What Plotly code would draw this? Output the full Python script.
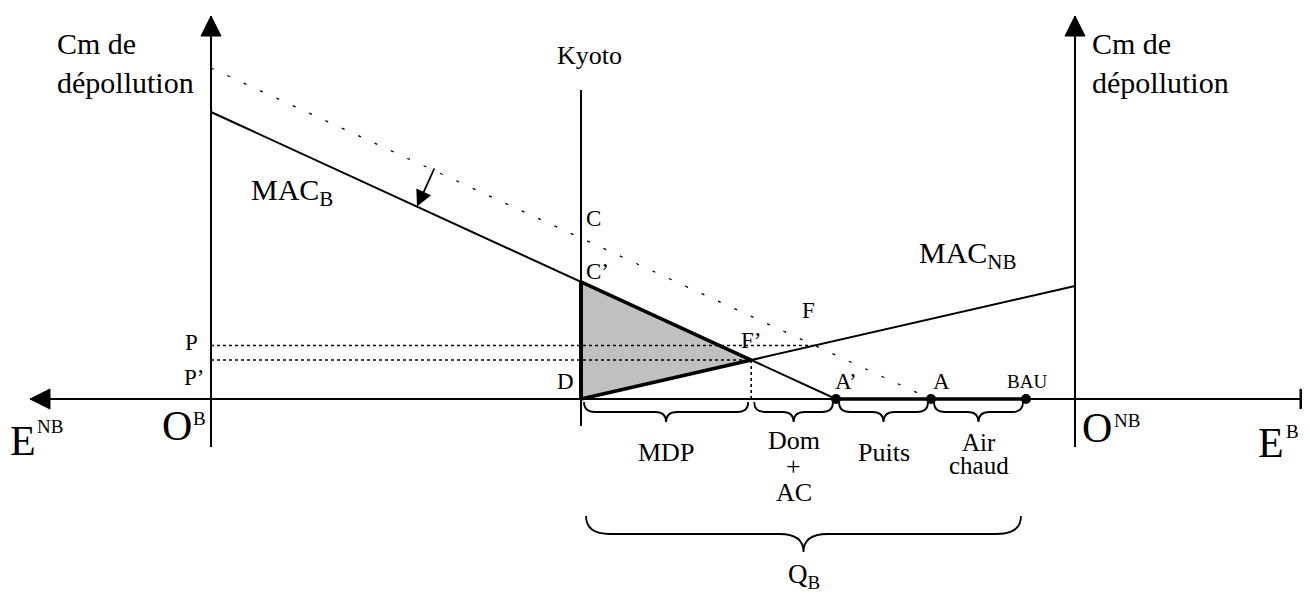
import plotly.graph_objects as go

# ---------------- data (abatement units on x, marginal cost on y) ----------------
# origin = O^B on the horizontal axis
x_OB = 0
x_kyoto = 370
x_ONB = 864
mac_b_x = [0, 625]          # MAC_B : from cost axis to A'
mac_b_y = [287, 0]
mac_b_old_x = [0, 720]      # former MAC_B (dotted) : from cost axis to A
mac_b_old_y = [331, 0]
mac_nb_x = [370, 864]       # MAC_NB : from D to O^NB axis
mac_nb_y = [0, 113]
point_names = ["A’", "A", "BAU"]
point_x = [625, 720, 815]
segment_names = [["MDP"], ["Dom", "+", "AC"], ["Puits"], ["Air", "chaud"]]

FONT = "Liberation Serif, Times New Roman, serif"
BLACK = "black"

# pixel mapping helpers (1 data unit = 1 screen px)
X0 = 211   # screen px of O^B
Y0 = 399   # screen px of horizontal axis
W, H = 1310, 594
PAGE = 8   # default page margin of the html body


def px(x):
    return x - X0


def py(y):
    return Y0 - y


def line_y(xs, ys, x):
    return ys[0] + (ys[1] - ys[0]) * (x - xs[0]) / (xs[1] - xs[0])


def intersect(xa, ya, xb, yb):
    sa = (ya[1] - ya[0]) / (xa[1] - xa[0])
    sb = (yb[1] - yb[0]) / (xb[1] - xb[0])
    x = (yb[0] - sb * xb[0] - ya[0] + sa * xa[0]) / (sa - sb)
    return x, ya[0] + sa * (x - xa[0])


fpx, fpy = intersect(mac_b_x, mac_b_y, mac_nb_x, mac_nb_y)      # F'
fx, fy = intersect(mac_b_old_x, mac_b_old_y, mac_nb_x, mac_nb_y)  # F
cpy = line_y(mac_b_x, mac_b_y, x_kyoto)                          # C'

fig = go.Figure()


def seg(xs, ys, width=2, dash="solid", color=BLACK):
    fig.add_trace(go.Scatter(x=xs, y=ys, mode="lines",
                             line=dict(color=color, width=width, dash=dash),
                             hoverinfo="skip", showlegend=False))


# shaded triangle D - C' - F'
fig.add_trace(go.Scatter(x=[x_kyoto, x_kyoto, fpx, x_kyoto], y=[0, cpy, fpy, 0],
                         mode="lines", fill="toself", fillcolor="#c0c0c0",
                         line=dict(width=0), hoverinfo="skip", showlegend=False))

# axes
y_top, y_bot = py(16), py(447)
seg([px(30), px(1318)], [0, 0], 2)
seg([x_OB, x_OB], [y_bot, y_top], 2)
seg([x_ONB, x_ONB], [y_bot, y_top], 2)
seg([x_kyoto, x_kyoto], [py(426), py(90)], 2)

# curves
seg(mac_b_old_x, mac_b_old_y, 1.3, dash="3px,15px")
seg(mac_b_x, mac_b_y, 2)
seg(mac_nb_x, mac_nb_y, 2)

# thick triangle edges
seg([x_kyoto, x_kyoto], [0, cpy], 4)
seg([x_kyoto, fpx], [cpy, fpy], 3.5)
seg([x_kyoto, fpx], [0, fpy], 3.5)
# thick part of horizontal axis A' -> BAU
seg([point_x[0], point_x[-1]], [0, 0], 3.5)

# price levels (dotted)
seg([x_OB, fx], [fy, fy], 1.6, dash="dot")
seg([x_OB, fpx], [fpy, fpy], 1.6, dash="dot")
seg([fpx, fpx], [fpy, 0], 1.6, dash="dot")

# points A', A, BAU
fig.add_trace(go.Scatter(x=point_x, y=[0] * len(point_x), mode="markers",
                         marker=dict(color=BLACK, size=10), hoverinfo="skip",
                         showlegend=False))

shapes = []


def tri(pts):
    d = "M " + " L ".join(f"{a},{b}" for a, b in pts) + " Z"
    shapes.append(dict(type="path", path=d, xref="x", yref="y",
                       fillcolor=BLACK, line=dict(color=BLACK, width=1)))


# axis arrowheads
for xa in (x_OB, x_ONB):
    tri([(xa, y_top), (xa - 10, y_top - 20), (xa + 10, y_top - 20)])
tri([(px(30), 0), (px(50), 10), (px(50), -10)])
tri([(px(1320), 0), (px(1300), 10), (px(1300), -10)])


def brace(x0, x1, ytop, depth, r):
    xm = (x0 + x1) / 2
    ym = ytop - depth / 2
    yb = ytop - depth
    d = (f"M {x0},{ytop} Q {x0},{ym} {x0 + r},{ym} L {xm - r},{ym} "
         f"Q {xm},{ym} {xm},{yb} Q {xm},{ym} {xm + r},{ym} L {x1 - r},{ym} "
         f"Q {x1},{ym} {x1},{ytop}")
    shapes.append(dict(type="path", path=d, xref="x", yref="y",
                       line=dict(color=BLACK, width=1.8)))


bounds = [x_kyoto, fpx, point_x[0], point_x[1], point_x[2]]
for i in range(4):
    brace(bounds[i] + 3, bounds[i + 1] - 3, -3, 20, 11)
brace(x_kyoto + 5, point_x[-1] - 5, py(516), 36, 24)

ann = []


def txt(text, x, y, size, xanchor="center", yanchor="middle", align="center"):
    ann.append(dict(text=text, x=x, y=y, xref="x", yref="y", showarrow=False,
                    xanchor=xanchor, yanchor=yanchor, align=align,
                    font=dict(family=FONT, size=size, color=BLACK)))


# axis titles
txt("Cm de<br>dépollution", px(55), py(25), 30, "left", "top", "left")
txt("Cm de<br>dépollution", px(1090), py(25), 30, "left", "top", "left")
txt("Kyoto", px(589), py(55), 26)
txt("MAC<sub>B</sub>", px(249), py(192), 30, "left")
txt("MAC<sub>NB</sub>", px(917), py(255), 30, "left")

# point labels
txt("C", px(584), py(218), 23, "left")
txt("C’", px(584), py(271), 23, "left")
txt("F", px(800), py(310), 23, "left")
txt("F’", px(751), py(340), 23)
txt("D", px(565), py(381), 23)
txt("P", px(191), py(342), 23)
txt("P’", px(194), py(377), 23)
for name, xv in zip(point_names, point_x):
    if name == "BAU":
        txt(name, xv + 1, py(381), 19)
    else:
        txt(name, xv + 10, py(381), 23)

# origins and axis names
txt("O", px(177), py(426), 42)
txt("B", px(199), py(418), 19)
txt("E", px(23), py(441), 42)
txt("NB", px(50), py(426), 19)
txt("O", px(1097), py(428), 42)
txt("NB", px(1127), py(420), 19)
txt("E", px(1271), py(443), 42)
txt("B", px(1292), py(431), 19)

# segment labels under braces
seg_centers = [(bounds[i] + bounds[i + 1]) / 2 for i in range(4)]
seg_tops = [452, 440, 452, 442]
seg_steps = [0, 26, 0, 23]
for lines, cx, ty, st in zip(segment_names, seg_centers, seg_tops, seg_steps):
    for k, t in enumerate(lines):
        txt(t, cx, py(ty + k * st), 26 if lines[0] != "Air" else 25)

txt("Q<sub>B</sub>", (x_kyoto + point_x[-1]) / 2, py(576), 27)

# small arrow showing the shift of MAC_B
ann.append(dict(x=206, y=line_y(mac_b_x, mac_b_y, 206), ax=224, ay=py(167),
                xref="x", yref="y", axref="x", ayref="y", text="",
                showarrow=True, arrowhead=2, arrowsize=1.8, arrowwidth=1.8,
                arrowcolor=BLACK))

fig.update_layout(
    width=W, height=H,
    margin=dict(l=0, r=0, t=0, b=0),
    paper_bgcolor="white", plot_bgcolor="white",
    xaxis=dict(range=[px(PAGE), px(PAGE + W)], visible=False, fixedrange=True),
    yaxis=dict(range=[py(PAGE + H), py(PAGE)], visible=False, fixedrange=True),
    shapes=shapes, annotations=ann, showlegend=False,
)

fig.write_html("out.html")
